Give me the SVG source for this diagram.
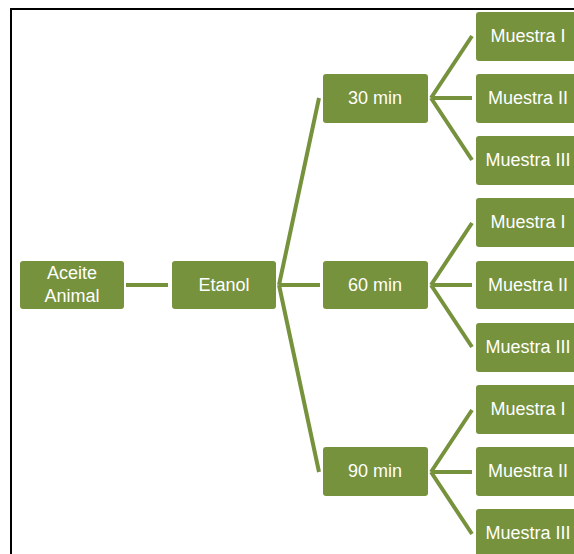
<svg xmlns="http://www.w3.org/2000/svg" width="574" height="554" viewBox="0 0 574 554">
<style>
.n{fill:#76923C;}
.t{fill:#FFFFFF;font-family:"Liberation Sans",Arial,sans-serif;font-size:18px;text-anchor:middle;dominant-baseline:central;}
.c{stroke:#76923C;stroke-width:4;fill:none;stroke-linecap:butt;}
</style>
<rect x="0" y="0" width="574" height="554" fill="#FFFFFF"/>
<path d="M11 554 V9 H574" stroke="#000" stroke-width="2" fill="none"/>
<g id="connectors">
<path class="c" d="M126 285 H168"/>
<path class="c" d="M279 285 L319 98 M279 285 H320 M279 285 L319 472"/>
<path class="c" d="M431 98 L472 36 M431 98 H472 M431 98 L472 160"/>
<path class="c" d="M431 285 L472 223 M431 285 H472 M431 285 L472 347"/>
<path class="c" d="M431 472 L472 410 M431 472 H472 M431 472 L472 534"/>
</g>
<g id="aceite"><rect class="n" x="20" y="261" width="104" height="48" rx="3"/><text class="t" x="72" y="273">Aceite</text><text class="t" x="72" y="296">Animal</text></g>
<g id="etanol"><rect class="n" x="172" y="261" width="104" height="48" rx="3"/><text class="t" x="224" y="285">Etanol</text></g>
<g id="m30"><rect class="n" x="323" y="74" width="105" height="49" rx="3"/><text class="t" x="375" y="98">30 min</text></g>
<g id="m60"><rect class="n" x="323" y="261" width="105" height="48" rx="3"/><text class="t" x="375" y="285">60 min</text></g>
<g id="m90"><rect class="n" x="323" y="447" width="105" height="49" rx="3"/><text class="t" x="375" y="471">90 min</text></g>
<g id="s30-1"><rect class="n" x="476" y="12" width="105" height="49" rx="3"/><text class="t" x="528" y="36">Muestra I</text></g>
<g id="s30-2"><rect class="n" x="476" y="74" width="105" height="49" rx="3"/><text class="t" x="528" y="98">Muestra II</text></g>
<g id="s30-3"><rect class="n" x="476" y="136" width="105" height="49" rx="3"/><text class="t" x="528" y="160">Muestra III</text></g>
<g id="s60-1"><rect class="n" x="476" y="198" width="105" height="49" rx="3"/><text class="t" x="528" y="222">Muestra I</text></g>
<g id="s60-2"><rect class="n" x="476" y="261" width="105" height="48" rx="3"/><text class="t" x="528" y="285">Muestra II</text></g>
<g id="s60-3"><rect class="n" x="476" y="323" width="105" height="49" rx="3"/><text class="t" x="528" y="347">Muestra III</text></g>
<g id="s90-1"><rect class="n" x="476" y="385" width="105" height="49" rx="3"/><text class="t" x="528" y="409">Muestra I</text></g>
<g id="s90-2"><rect class="n" x="476" y="447" width="105" height="49" rx="3"/><text class="t" x="528" y="471">Muestra II</text></g>
<g id="s90-3"><rect class="n" x="476" y="509" width="105" height="49" rx="3"/><text class="t" x="528" y="533">Muestra III</text></g>
</svg>
